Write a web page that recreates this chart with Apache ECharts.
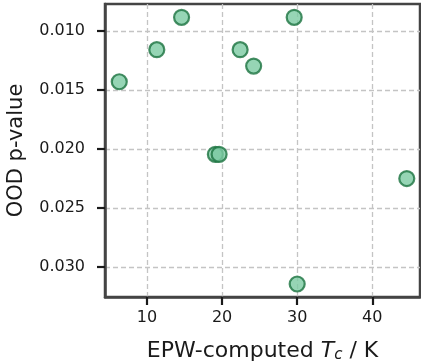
<!DOCTYPE html>
<html>
<head>
<meta charset="utf-8">
<script src="https://cdn.jsdelivr.net/npm/echarts@6/dist/echarts.min.js"></script>
<style>
  html, body { margin: 0; padding: 0; background: #fff; }
  #chart { width: 421px; height: 362px; }
</style>
</head>
<body>
<div id="chart"></div>
<script>
// EPW-computed Tc (K) vs OOD p-value
const tcValues = [6.3, 11.3, 14.6, 29.6, 22.4, 24.2, 19.1, 19.6, 44.6, 30.0];
const pValues = [0.0143, 0.01158, 0.00884, 0.00884, 0.01158, 0.01297, 0.02045, 0.02045, 0.0225, 0.03144];
const xTicks = [10, 20, 30, 40];
const yTicks = [0.010, 0.015, 0.020, 0.025, 0.030];

const fontFamily = 'DejaVu Sans';
const ink = '#1a1a1a';

const chart = echarts.init(document.getElementById('chart'), null, { renderer: 'canvas' });

const gridLine = { show: true, lineStyle: { color: '#c4c4c4', width: 1.3, type: [5, 3] } };

chart.setOption({
  animation: false,
  grid: {
    left: 105, right: 1, top: 4, bottom: 65,
    outerBoundsMode: 'none',
    containLabel: false,
    show: true, borderColor: '#444', borderWidth: 2.5, backgroundColor: 'transparent'
  },
  xAxis: {
    type: 'value',
    min: 4.4,
    max: 46.36,
    name: '{n|EPW-computed }{t|T}{s|c}{n| / K}',
    nameLocation: 'middle',
    nameGap: 42,
    nameTextStyle: {
      rich: {
        n: { fontFamily, fontSize: 22, color: ink },
        t: { fontFamily, fontSize: 22, color: ink, fontStyle: 'italic' },
        s: { fontFamily, fontSize: 15, color: ink, fontStyle: 'italic', verticalAlign: 'bottom', padding: [9, 0, 0, 0] }
      }
    },
    axisLine: { show: true, lineStyle: { color: '#444', width: 2.5 } },
    axisTick: { show: true, customValues: xTicks, length: 8, lineStyle: { color: ink, width: 2.2 } },
    axisLabel: { customValues: xTicks, fontFamily, fontSize: 16, color: ink, margin: 13 },
    splitLine: gridLine
  },
  yAxis: {
    type: 'value',
    inverse: true,
    min: 0.00771,
    max: 0.03254,
    name: 'OOD p-value',
    nameLocation: 'middle',
    nameGap: 78,
    nameTextStyle: { fontFamily, fontSize: 21, color: ink },
    axisLine: { show: true, lineStyle: { color: '#444', width: 2.5 } },
    axisTick: { show: true, customValues: yTicks, length: 8, lineStyle: { color: ink, width: 2.2 } },
    axisLabel: {
      customValues: yTicks, fontFamily, fontSize: 16, color: ink, margin: 20,
      formatter: v => v.toFixed(3)
    },
    splitLine: gridLine
  },
  series: [{
    type: 'scatter',
    data: tcValues.map((x, i) => [x, pValues[i]]),
    symbolSize: 15,
    itemStyle: { color: '#7ccaa3', borderColor: '#1b7340', borderWidth: 2.2 },
    z: 5
  }]
});
</script>
</body>
</html>
